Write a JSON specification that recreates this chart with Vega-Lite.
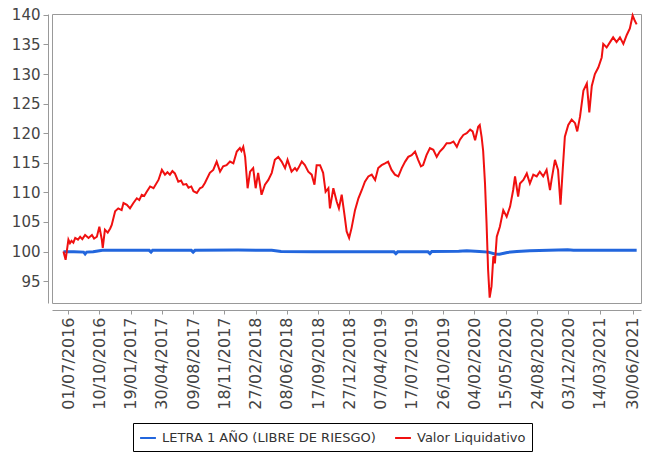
{
  "$schema": "https://vega.github.io/schema/vega-lite/v6.json",
  "width": 589,
  "height": 289,
  "autosize": {"type": "none"},
  "padding": {"left": 52, "top": 14, "right": 5, "bottom": 151},
  "background": "white",
  "config": {
    "view": {"stroke": "#999", "strokeWidth": 1},
    "axis": {"grid": false, "domainColor": "#999", "tickColor": "#999", "labelColor": "#444", "labelFont": "DejaVu Sans", "title": null}
  },
  "datasets": {
    "letra": [
      {"fecha": "2016-06-16", "valor": 99.95},
      {"fecha": "2016-07-20", "valor": 99.95},
      {"fecha": "2016-08-20", "valor": 99.9},
      {"fecha": "2016-08-25", "valor": 99.6},
      {"fecha": "2016-08-30", "valor": 99.9},
      {"fecha": "2016-09-20", "valor": 99.95},
      {"fecha": "2016-10-05", "valor": 100.1},
      {"fecha": "2016-10-20", "valor": 100.2},
      {"fecha": "2017-01-01", "valor": 100.2},
      {"fecha": "2017-03-20", "valor": 100.2},
      {"fecha": "2017-03-26", "valor": 99.9},
      {"fecha": "2017-03-31", "valor": 100.2},
      {"fecha": "2017-08-03", "valor": 100.2},
      {"fecha": "2017-08-09", "valor": 99.9},
      {"fecha": "2017-08-15", "valor": 100.2},
      {"fecha": "2018-01-01", "valor": 100.25},
      {"fecha": "2018-04-20", "valor": 100.2},
      {"fecha": "2018-05-20", "valor": 100.0},
      {"fecha": "2018-09-01", "valor": 99.95},
      {"fecha": "2019-01-01", "valor": 99.95},
      {"fecha": "2019-05-20", "valor": 99.95},
      {"fecha": "2019-05-26", "valor": 99.65},
      {"fecha": "2019-06-01", "valor": 99.95},
      {"fecha": "2019-09-07", "valor": 99.95},
      {"fecha": "2019-09-13", "valor": 99.65},
      {"fecha": "2019-09-19", "valor": 100.0},
      {"fecha": "2019-12-15", "valor": 100.05},
      {"fecha": "2020-01-10", "valor": 100.15},
      {"fecha": "2020-02-20", "valor": 100.0},
      {"fecha": "2020-03-20", "valor": 99.9},
      {"fecha": "2020-04-10", "valor": 99.6},
      {"fecha": "2020-04-25", "valor": 99.55},
      {"fecha": "2020-05-20", "valor": 99.85},
      {"fecha": "2020-06-20", "valor": 100.0},
      {"fecha": "2020-08-01", "valor": 100.15},
      {"fecha": "2020-10-01", "valor": 100.2},
      {"fecha": "2020-12-01", "valor": 100.3},
      {"fecha": "2020-12-20", "valor": 100.2},
      {"fecha": "2021-03-01", "valor": 100.2},
      {"fecha": "2021-07-12", "valor": 100.2}
    ],
    "liquidativo": [
      {"fecha": "2016-06-16", "valor": 100.0},
      {"fecha": "2016-06-23", "valor": 98.6},
      {"fecha": "2016-07-02", "valor": 102.0},
      {"fecha": "2016-07-07", "valor": 101.4},
      {"fecha": "2016-07-12", "valor": 101.8},
      {"fecha": "2016-07-18", "valor": 101.5},
      {"fecha": "2016-07-24", "valor": 102.3},
      {"fecha": "2016-08-02", "valor": 102.0},
      {"fecha": "2016-08-09", "valor": 102.5},
      {"fecha": "2016-08-16", "valor": 102.1},
      {"fecha": "2016-08-25", "valor": 102.8},
      {"fecha": "2016-09-05", "valor": 102.3},
      {"fecha": "2016-09-16", "valor": 102.8},
      {"fecha": "2016-09-23", "valor": 102.2},
      {"fecha": "2016-10-02", "valor": 102.5},
      {"fecha": "2016-10-10", "valor": 104.2},
      {"fecha": "2016-10-18", "valor": 102.0},
      {"fecha": "2016-10-21", "valor": 100.6},
      {"fecha": "2016-10-28", "valor": 103.7},
      {"fecha": "2016-11-06", "valor": 103.2},
      {"fecha": "2016-11-14", "valor": 103.9},
      {"fecha": "2016-11-19", "valor": 104.5},
      {"fecha": "2016-11-30", "valor": 106.8},
      {"fecha": "2016-12-10", "valor": 107.3},
      {"fecha": "2016-12-21", "valor": 107.0},
      {"fecha": "2016-12-27", "valor": 108.2},
      {"fecha": "2017-01-07", "valor": 107.9},
      {"fecha": "2017-01-17", "valor": 107.3},
      {"fecha": "2017-01-28", "valor": 108.2},
      {"fecha": "2017-02-08", "valor": 109.0},
      {"fecha": "2017-02-16", "valor": 108.7},
      {"fecha": "2017-02-24", "valor": 109.6},
      {"fecha": "2017-03-04", "valor": 109.4},
      {"fecha": "2017-03-12", "valor": 110.1},
      {"fecha": "2017-03-23", "valor": 111.0},
      {"fecha": "2017-04-03", "valor": 110.7},
      {"fecha": "2017-04-19", "valor": 112.1},
      {"fecha": "2017-04-30", "valor": 113.8},
      {"fecha": "2017-05-10", "valor": 113.0},
      {"fecha": "2017-05-18", "valor": 113.4},
      {"fecha": "2017-05-26", "valor": 113.0},
      {"fecha": "2017-06-03", "valor": 113.6},
      {"fecha": "2017-06-11", "valor": 113.2},
      {"fecha": "2017-06-22", "valor": 111.8},
      {"fecha": "2017-07-01", "valor": 112.0},
      {"fecha": "2017-07-08", "valor": 111.3},
      {"fecha": "2017-07-18", "valor": 111.4},
      {"fecha": "2017-07-25", "valor": 110.8},
      {"fecha": "2017-08-03", "valor": 111.0},
      {"fecha": "2017-08-10", "valor": 110.2},
      {"fecha": "2017-08-21", "valor": 109.9},
      {"fecha": "2017-08-31", "valor": 110.7},
      {"fecha": "2017-09-08", "valor": 110.9},
      {"fecha": "2017-09-16", "valor": 111.6},
      {"fecha": "2017-10-02", "valor": 113.3},
      {"fecha": "2017-10-13", "valor": 113.8},
      {"fecha": "2017-10-24", "valor": 115.2},
      {"fecha": "2017-11-04", "valor": 113.5},
      {"fecha": "2017-11-14", "valor": 114.4},
      {"fecha": "2017-11-25", "valor": 114.6},
      {"fecha": "2017-12-06", "valor": 115.2},
      {"fecha": "2017-12-17", "valor": 114.9},
      {"fecha": "2017-12-28", "valor": 116.9},
      {"fecha": "2018-01-07", "valor": 117.5},
      {"fecha": "2018-01-12", "valor": 117.0},
      {"fecha": "2018-01-18", "valor": 117.7},
      {"fecha": "2018-01-24", "valor": 116.0},
      {"fecha": "2018-02-01", "valor": 110.7},
      {"fecha": "2018-02-09", "valor": 113.5},
      {"fecha": "2018-02-19", "valor": 114.1},
      {"fecha": "2018-02-27", "valor": 110.7},
      {"fecha": "2018-03-07", "valor": 113.3},
      {"fecha": "2018-03-18", "valor": 109.6},
      {"fecha": "2018-03-29", "valor": 111.3},
      {"fecha": "2018-04-09", "valor": 112.1},
      {"fecha": "2018-04-20", "valor": 113.3},
      {"fecha": "2018-04-30", "valor": 115.5},
      {"fecha": "2018-05-11", "valor": 116.0},
      {"fecha": "2018-05-22", "valor": 115.2},
      {"fecha": "2018-06-02", "valor": 114.1},
      {"fecha": "2018-06-10", "valor": 115.5},
      {"fecha": "2018-06-23", "valor": 113.5},
      {"fecha": "2018-07-04", "valor": 114.1},
      {"fecha": "2018-07-10", "valor": 113.7},
      {"fecha": "2018-07-15", "valor": 114.1},
      {"fecha": "2018-07-26", "valor": 115.2},
      {"fecha": "2018-08-05", "valor": 114.6},
      {"fecha": "2018-08-16", "valor": 113.5},
      {"fecha": "2018-08-27", "valor": 113.0},
      {"fecha": "2018-09-05", "valor": 111.3},
      {"fecha": "2018-09-12", "valor": 114.6},
      {"fecha": "2018-09-23", "valor": 114.6},
      {"fecha": "2018-10-03", "valor": 113.3},
      {"fecha": "2018-10-11", "valor": 110.1},
      {"fecha": "2018-10-20", "valor": 110.7},
      {"fecha": "2018-10-25", "valor": 107.3},
      {"fecha": "2018-11-05", "valor": 110.7},
      {"fecha": "2018-11-16", "valor": 108.4},
      {"fecha": "2018-11-23", "valor": 107.3},
      {"fecha": "2018-12-02", "valor": 109.6},
      {"fecha": "2018-12-11", "valor": 106.2},
      {"fecha": "2018-12-18", "valor": 103.4},
      {"fecha": "2018-12-26", "valor": 102.3},
      {"fecha": "2019-01-03", "valor": 104.0},
      {"fecha": "2019-01-14", "valor": 107.0},
      {"fecha": "2019-01-25", "valor": 109.0},
      {"fecha": "2019-02-05", "valor": 110.4},
      {"fecha": "2019-02-15", "valor": 111.8},
      {"fecha": "2019-02-26", "valor": 112.7},
      {"fecha": "2019-03-09", "valor": 113.0},
      {"fecha": "2019-03-20", "valor": 112.1},
      {"fecha": "2019-03-30", "valor": 114.1},
      {"fecha": "2019-04-10", "valor": 114.6},
      {"fecha": "2019-04-21", "valor": 114.9},
      {"fecha": "2019-05-01", "valor": 115.2},
      {"fecha": "2019-05-12", "valor": 113.8},
      {"fecha": "2019-05-23", "valor": 113.0},
      {"fecha": "2019-06-03", "valor": 112.7},
      {"fecha": "2019-06-14", "valor": 114.1},
      {"fecha": "2019-06-25", "valor": 115.2},
      {"fecha": "2019-07-05", "valor": 116.0},
      {"fecha": "2019-07-16", "valor": 116.3},
      {"fecha": "2019-07-27", "valor": 116.9},
      {"fecha": "2019-08-06", "valor": 115.5},
      {"fecha": "2019-08-15", "valor": 114.4},
      {"fecha": "2019-08-22", "valor": 114.6},
      {"fecha": "2019-09-02", "valor": 116.3},
      {"fecha": "2019-09-13", "valor": 117.5},
      {"fecha": "2019-09-24", "valor": 117.2},
      {"fecha": "2019-10-05", "valor": 116.0},
      {"fecha": "2019-10-15", "valor": 116.9},
      {"fecha": "2019-10-26", "valor": 117.5},
      {"fecha": "2019-11-06", "valor": 118.3},
      {"fecha": "2019-11-17", "valor": 118.3},
      {"fecha": "2019-11-28", "valor": 118.6},
      {"fecha": "2019-12-09", "valor": 117.7},
      {"fecha": "2019-12-19", "valor": 118.9},
      {"fecha": "2019-12-30", "valor": 119.7},
      {"fecha": "2020-01-10", "valor": 120.0},
      {"fecha": "2020-01-21", "valor": 120.6},
      {"fecha": "2020-01-29", "valor": 120.3},
      {"fecha": "2020-02-06", "valor": 118.8},
      {"fecha": "2020-02-16", "valor": 121.1},
      {"fecha": "2020-02-21", "valor": 121.4},
      {"fecha": "2020-02-27", "valor": 119.4},
      {"fecha": "2020-03-03", "valor": 117.0},
      {"fecha": "2020-03-09", "valor": 111.5},
      {"fecha": "2020-03-14", "valor": 104.8},
      {"fecha": "2020-03-19", "valor": 96.9},
      {"fecha": "2020-03-24", "valor": 92.2},
      {"fecha": "2020-03-30", "valor": 94.1},
      {"fecha": "2020-04-05", "valor": 99.2},
      {"fecha": "2020-04-10", "valor": 98.0},
      {"fecha": "2020-04-16", "valor": 102.5},
      {"fecha": "2020-04-26", "valor": 104.2},
      {"fecha": "2020-05-07", "valor": 107.0},
      {"fecha": "2020-05-18", "valor": 105.9},
      {"fecha": "2020-05-29", "valor": 107.6},
      {"fecha": "2020-06-08", "valor": 110.4},
      {"fecha": "2020-06-14", "valor": 112.7},
      {"fecha": "2020-06-24", "valor": 109.3},
      {"fecha": "2020-06-30", "valor": 111.5},
      {"fecha": "2020-07-11", "valor": 112.1},
      {"fecha": "2020-07-22", "valor": 113.2},
      {"fecha": "2020-08-01", "valor": 111.5},
      {"fecha": "2020-08-12", "valor": 113.0},
      {"fecha": "2020-08-23", "valor": 112.7},
      {"fecha": "2020-09-02", "valor": 113.5},
      {"fecha": "2020-09-13", "valor": 112.7},
      {"fecha": "2020-09-24", "valor": 113.8},
      {"fecha": "2020-10-05", "valor": 110.4},
      {"fecha": "2020-10-10", "valor": 112.1},
      {"fecha": "2020-10-21", "valor": 115.5},
      {"fecha": "2020-10-31", "valor": 113.8},
      {"fecha": "2020-11-08", "valor": 107.9},
      {"fecha": "2020-11-15", "valor": 113.8},
      {"fecha": "2020-11-22", "valor": 119.4},
      {"fecha": "2020-12-03", "valor": 121.4},
      {"fecha": "2020-12-14", "valor": 122.3},
      {"fecha": "2020-12-25", "valor": 121.7},
      {"fecha": "2021-01-01", "valor": 120.3},
      {"fecha": "2021-01-10", "valor": 122.8},
      {"fecha": "2021-01-21", "valor": 127.2},
      {"fecha": "2021-02-01", "valor": 128.4},
      {"fecha": "2021-02-09", "valor": 123.5},
      {"fecha": "2021-02-17", "valor": 128.0},
      {"fecha": "2021-02-27", "valor": 130.0},
      {"fecha": "2021-03-10", "valor": 131.1},
      {"fecha": "2021-03-21", "valor": 132.8},
      {"fecha": "2021-03-26", "valor": 135.1},
      {"fecha": "2021-04-06", "valor": 134.5},
      {"fecha": "2021-04-17", "valor": 135.4},
      {"fecha": "2021-04-27", "valor": 136.2},
      {"fecha": "2021-05-08", "valor": 135.4},
      {"fecha": "2021-05-19", "valor": 136.2},
      {"fecha": "2021-05-30", "valor": 135.1},
      {"fecha": "2021-06-10", "valor": 136.6},
      {"fecha": "2021-06-20", "valor": 137.7},
      {"fecha": "2021-06-29", "valor": 139.9},
      {"fecha": "2021-07-06", "valor": 139.0},
      {"fecha": "2021-07-12", "valor": 138.4}
    ]
  },
  "encoding": {
    "x": {
      "field": "fecha",
      "type": "temporal",
      "scale": {"type": "utc", "domain": [{"year": 2016, "month": 5, "date": 10, "utc": true}, {"year": 2021, "month": 7, "date": 26, "utc": true}]},
      "axis": {
        "labelExpr": "utcFormat(datum.value, '%d/%m/%Y')",
        "labelAngle": -90,
        "labelFontSize": 16,
        "labelOverlap": false,
        "offset": 7,
        "tickSize": 4,
        "labelPadding": 3,
        "values": [
          {"year": 2016, "month": 7, "date": 1, "utc": true},
          {"year": 2016, "month": 10, "date": 10, "utc": true},
          {"year": 2017, "month": 1, "date": 19, "utc": true},
          {"year": 2017, "month": 4, "date": 30, "utc": true},
          {"year": 2017, "month": 8, "date": 9, "utc": true},
          {"year": 2017, "month": 11, "date": 18, "utc": true},
          {"year": 2018, "month": 2, "date": 27, "utc": true},
          {"year": 2018, "month": 6, "date": 8, "utc": true},
          {"year": 2018, "month": 9, "date": 17, "utc": true},
          {"year": 2018, "month": 12, "date": 27, "utc": true},
          {"year": 2019, "month": 4, "date": 7, "utc": true},
          {"year": 2019, "month": 7, "date": 17, "utc": true},
          {"year": 2019, "month": 10, "date": 26, "utc": true},
          {"year": 2020, "month": 2, "date": 4, "utc": true},
          {"year": 2020, "month": 5, "date": 15, "utc": true},
          {"year": 2020, "month": 8, "date": 24, "utc": true},
          {"year": 2020, "month": 12, "date": 3, "utc": true},
          {"year": 2021, "month": 3, "date": 14, "utc": true},
          {"year": 2021, "month": 6, "date": 30, "utc": true}
        ]
      }
    },
    "y": {
      "field": "valor",
      "type": "quantitative",
      "scale": {"domain": [91.3, 140.15], "nice": false, "zero": false},
      "axis": {"values": [95, 100, 105, 110, 115, 120, 125, 130, 135, 140], "labelFontSize": 15, "offset": 4, "tickSize": 5, "labelPadding": 3}
    }
  },
  "layer": [
    {
      "data": {"name": "letra"},
      "mark": {"type": "line", "strokeWidth": 3},
      "encoding": {
        "color": {
          "datum": "LETRA 1 AÑO (LIBRE DE RIESGO)",
          "type": "nominal",
          "scale": {"domain": ["LETRA 1 AÑO (LIBRE DE RIESGO)", "Valor Liquidativo"], "range": ["#2266dd", "#f01010"]},
          "legend": {
            "title": null,
            "orient": "none",
            "legendX": 81,
            "legendY": 409,
            "direction": "horizontal",
            "strokeColor": "#000",
            "padding": 6,
            "symbolType": "stroke",
            "symbolStrokeWidth": 2,
            "symbolSize": 250,
            "labelFont": "DejaVu Sans",
            "labelFontSize": 13,
            "labelColor": "#333",
            "labelLimit": 400,
            "labelOffset": 5,
            "columnPadding": 15
          }
        }
      }
    },
    {
      "data": {"name": "liquidativo"},
      "mark": {"type": "line", "strokeWidth": 2},
      "encoding": {
        "color": {"datum": "Valor Liquidativo", "type": "nominal"}
      }
    }
  ]
}
